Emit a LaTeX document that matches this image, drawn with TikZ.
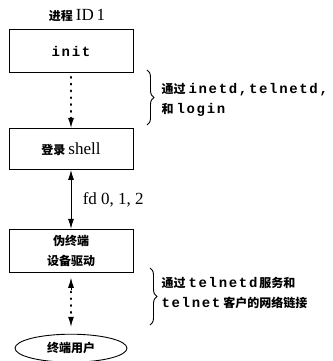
\documentclass[tikz,border=0pt]{standalone}
\usepackage{fontspec}
\setmainfont{Liberation Serif}
\setmonofont[LetterSpace=12]{Liberation Mono}
\newfontfamily\cjk{Noto Sans CJK SC}
\usetikzlibrary{positioning, arrows.meta, decorations.pathreplacing, shapes.geometric}
\newcommand{\tcode}[1]{{\ttfamily\bfseries\fontsize{14}{20}\selectfont #1}}
\newcommand{\zh}[1]{{\cjk\bfseries #1}}
\newcommand{\latin}[1]{{\fontsize{17}{20}\selectfont #1}}

\begin{document}
\begin{tikzpicture}[x=1pt, y=-1pt, font=\fontsize{12}{20}\selectfont,
    box/.style={draw, rectangle, line width=0.9pt, minimum width=124pt, minimum height=43pt, inner sep=0pt, align=center},
    dotline/.style={line width=2.2pt, line cap=round, dash pattern=on 0.8pt off 6pt},
    tip/.style={line width=1pt, -{Latex[length=10pt,width=6pt]}},
    dblarrow/.style={line width=1pt, {Latex[length=10pt,width=6pt]}-{Latex[length=10pt,width=6pt]}},
    brace/.style={decorate, decoration={brace, amplitude=7pt}, line width=0.9pt}]
        \useasboundingbox (0,0) rectangle (332,361);

        \node (pid) at (77,15) {\zh{进程} \latin{ID\,1}};
        \node [box] (init) at (71,51) {\tcode{init}};
        \node [box, minimum height=41pt, below = 55pt of init] (shell) {\zh{登录} \latin{shell}};
        \node [box, below = 59pt of shell] (pty) {\zh{伪终端}\\\zh{设备驱动}};
        \node [draw, ellipse, line width=0.9pt, minimum width=112pt, minimum height=28pt, inner sep=0pt, below = 61pt of pty] (user) {\zh{终端用户}};

        % dotted links, heads drawn on top
        \draw[dotline, shorten <=4pt, shorten >=8pt] (init) -- (shell);
        \draw[tip, shorten <=45pt] (init) -- (shell);
        \draw[dblarrow] (shell) -- node[right = 8pt] (fd) {\latin{fd 0, 1, 2}} (pty);
        \draw[dotline, shorten <=12pt, shorten >=14pt] (pty) -- (user);
        \draw[tip, shorten <=44pt, shorten >=7pt] (pty) -- (user);
        \draw[tip, shorten <=44pt, shorten >=5pt] (user) -- (pty);

        % braces on the right
        \coordinate (b1top) at (147,70);
        \coordinate (b1bot) at (147,125);
        \draw[brace] (b1top) -- (b1bot);
        \node [anchor=west, align=left] (via1) at (158,100) {\zh{通过} \tcode{inetd,telnetd,}\\\zh{和} \tcode{login}};

        \coordinate (b2top) at (150,268);
        \coordinate (b2bot) at (150,325);
        \draw[brace] (b2top) -- (b2bot);
        \node [anchor=west, align=left] (via2) at (158,293) {\zh{通过} \tcode{telnetd}\,\zh{服务和}\\\tcode{telnet} \zh{客户的网络链接}};

    \end{tikzpicture}
\end{document}
